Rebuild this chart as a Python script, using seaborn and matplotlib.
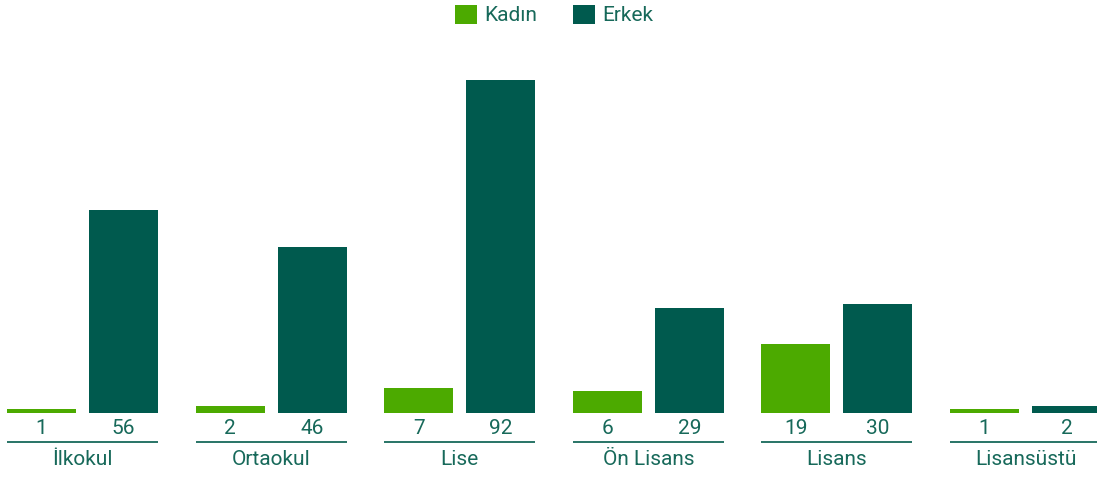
import matplotlib
matplotlib.use("Agg")
import matplotlib.pyplot as plt
import matplotlib.transforms as mtransforms
from matplotlib.patches import Patch
import seaborn as sns
import pandas as pd

categories = ["İlkokul", "Ortaokul", "Lise", "Ön Lisans", "Lisans", "Lisansüstü"]
kadin = [1, 2, 7, 6, 19, 1]
erkek = [56, 46, 92, 29, 30, 2]
series_names = ["Kadın", "Erkek"]

c_kadin = "#4caa00"
c_erkek = "#005a4e"
c_text = "#17695a"

df = pd.DataFrame({
    "cat": categories * 2,
    "series": [series_names[0]] * len(categories) + [series_names[1]] * len(categories),
    "value": kadin + erkek,
})

sns.set_theme(style="white")
plt.rcParams["font.family"] = ["Roboto", "DejaVu Sans"]

fig = plt.figure(figsize=(10.97, 4.78), dpi=100)
ax = fig.add_axes([0, 65 / 478, 1, 333 / 478])

sns.barplot(data=df, x="cat", y="value", hue="series", order=categories,
            hue_order=series_names, palette=[c_kadin, c_erkek],
            width=0.8696, gap=0.158, saturation=1, legend=False, ax=ax,
            linewidth=0, edgecolor="none")

ax.set_xlim(-0.4374, 5.379)
ax.set_ylim(0, 92)
ax.axis("off")

fs = 15
def off(dy_pt):
    return ax.get_xaxis_transform() + mtransforms.ScaledTranslation(0, dy_pt / 72, fig.dpi_scale_trans)

# value labels under each bar
for cont in ax.containers:
    for bar, val in zip(cont.patches, cont.datavalues):
        xc = bar.get_x() + bar.get_width() / 2
        ax.text(xc, 0, f"{int(val)}", transform=off(-10.8), ha="center", va="center",
                fontsize=fs, color=c_text, clip_on=False)

# group line + category label
kbars = ax.containers[0].patches
ebars = ax.containers[1].patches
for i, cat in enumerate(categories):
    x0 = kbars[i].get_x()
    x1 = ebars[i].get_x() + ebars[i].get_width()
    ax.plot([x0, x1], [0, 0], transform=off(-21), color=c_text, lw=1.3,
            clip_on=False, solid_capstyle="butt")
    ax.text((x0 + x1) / 2, 0, cat, transform=off(-33.5), ha="center", va="center",
            fontsize=fs, color=c_text, clip_on=False)

handles = [Patch(facecolor=c_kadin, edgecolor="none"), Patch(facecolor=c_erkek, edgecolor="none")]
leg = fig.legend(handles, series_names, loc="center", bbox_to_anchor=(0.5 + 5.5 / 1097, 1 - 15 / 478),
                 ncol=2, frameon=False, fontsize=fs, handlelength=1.05, handleheight=1.05,
                 handletextpad=0.35, columnspacing=1.7, borderpad=0)
for t in leg.get_texts():
    t.set_color(c_text)

fig.savefig("out.png", dpi=100)
